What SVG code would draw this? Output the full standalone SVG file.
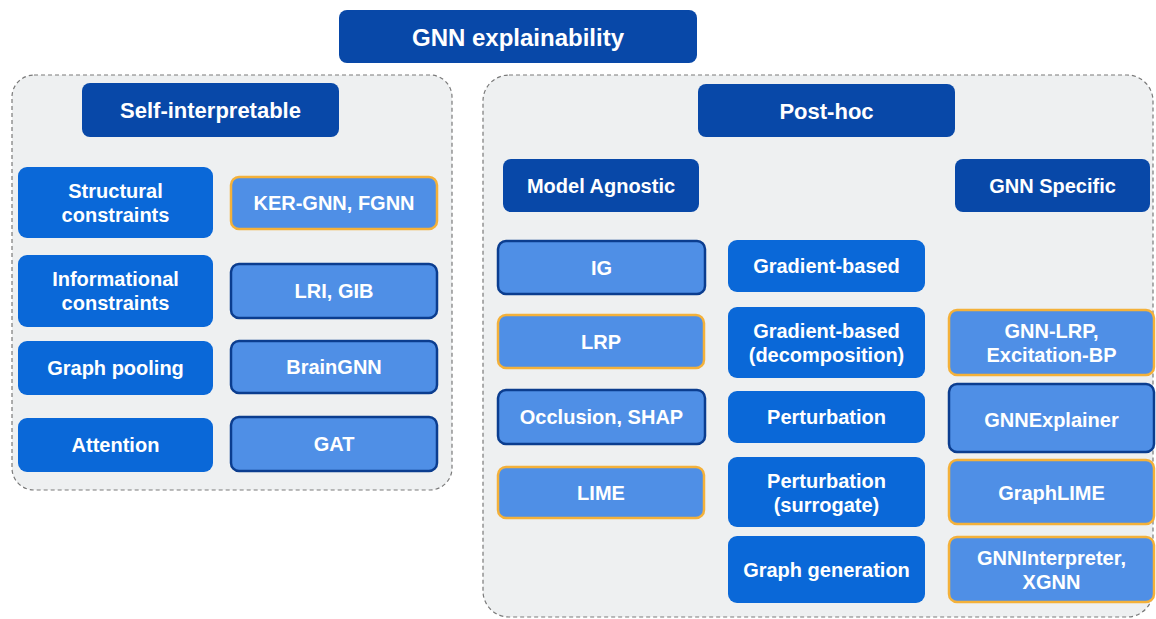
<svg xmlns="http://www.w3.org/2000/svg" width="1156" height="619" viewBox="0 0 1156 619">
<style>
text{font-family:"Liberation Sans",Arial,Helvetica,sans-serif;font-weight:bold;fill:#fff;text-anchor:middle;dominant-baseline:central}
.panel{fill:#eef0f1;stroke:#7a7a7a;stroke-width:1.2;stroke-dasharray:4 3}
.navy{fill:#0848a8}
.cat{fill:#0a68d8}
.m{fill:#4f8fe6;stroke-width:2.5}
.o{stroke:#f4b13a}
.d{stroke:#0b3d8f}
.h{font-size:22px}
.t{font-size:20px}
</style>
<rect width="1156" height="619" fill="#ffffff"/>
<rect class="panel" x="12" y="75" width="440" height="415" rx="22"/>
<rect class="panel" x="483" y="75" width="670" height="542" rx="26"/>
<g id="connectors"/>
<g id="n-title"><rect class="navy" x="339" y="10" width="358" height="53" rx="8"/><text x="518" y="37" style="font-size:24px">GNN explainability</text></g>
<g id="n-self"><rect class="navy" x="82" y="83" width="257" height="54" rx="8"/><text class="h" x="210.5" y="110">Self-interpretable</text></g>
<g id="n-struct"><rect class="cat" x="18" y="167" width="195" height="71" rx="9"/><text class="t" x="115.5" y="191">Structural</text><text class="t" x="115.5" y="215">constraints</text></g>
<g id="n-ker"><rect class="m o" x="231" y="177" width="206" height="52" rx="8"/><text class="t" x="334" y="203">KER-GNN, FGNN</text></g>
<g id="n-info"><rect class="cat" x="18" y="255" width="195" height="72" rx="9"/><text class="t" x="115.5" y="279">Informational</text><text class="t" x="115.5" y="303">constraints</text></g>
<g id="n-lri"><rect class="m d" x="231" y="264" width="206" height="54" rx="8"/><text class="t" x="334" y="291">LRI, GIB</text></g>
<g id="n-pool"><rect class="cat" x="18" y="341" width="195" height="54" rx="9"/><text class="t" x="115.5" y="368">Graph pooling</text></g>
<g id="n-brain"><rect class="m d" x="231" y="341" width="206" height="52" rx="8"/><text class="t" x="334" y="367">BrainGNN</text></g>
<g id="n-att"><rect class="cat" x="18" y="418" width="195" height="54" rx="9"/><text class="t" x="115.5" y="445">Attention</text></g>
<g id="n-gat"><rect class="m d" x="231" y="417" width="206" height="54" rx="8"/><text class="t" x="334" y="444">GAT</text></g>
<g id="n-posthoc"><rect class="navy" x="698" y="84" width="257" height="53" rx="8"/><text class="h" x="826.5" y="111">Post-hoc</text></g>
<g id="n-agnostic"><rect class="navy" x="503" y="159" width="196" height="53" rx="8"/><text class="t" x="601" y="186">Model Agnostic</text></g>
<g id="n-specific"><rect class="navy" x="955" y="159" width="195" height="53" rx="8"/><text class="t" x="1052.5" y="186">GNN Specific</text></g>
<g id="n-ig"><rect class="m d" x="498" y="241" width="207" height="53" rx="8"/><text class="t" x="601.5" y="268">IG</text></g>
<g id="n-lrp"><rect class="m o" x="498" y="315" width="206" height="53" rx="8"/><text class="t" x="601" y="342">LRP</text></g>
<g id="n-occ"><rect class="m d" x="498" y="390" width="207" height="54" rx="8"/><text class="t" x="601.5" y="417">Occlusion, SHAP</text></g>
<g id="n-lime"><rect class="m o" x="498" y="467" width="206" height="51" rx="8"/><text class="t" x="601" y="493">LIME</text></g>
<g id="n-grad"><rect class="cat" x="728" y="240" width="197" height="52" rx="9"/><text class="t" x="826.5" y="266">Gradient-based</text></g>
<g id="n-graddec"><rect class="cat" x="728" y="307" width="197" height="71" rx="9"/><text class="t" x="826.5" y="331">Gradient-based</text><text class="t" x="826.5" y="355">(decomposition)</text></g>
<g id="n-pert"><rect class="cat" x="728" y="391" width="197" height="52" rx="9"/><text class="t" x="826.5" y="417">Perturbation</text></g>
<g id="n-pertsur"><rect class="cat" x="728" y="457" width="197" height="70" rx="9"/><text class="t" x="826.5" y="481">Perturbation</text><text class="t" x="826.5" y="505">(surrogate)</text></g>
<g id="n-gen"><rect class="cat" x="728" y="536" width="197" height="67" rx="9"/><text class="t" x="826.5" y="570">Graph generation</text></g>
<g id="n-gnnlrp"><rect class="m o" x="949" y="310" width="205" height="65" rx="8"/><text class="t" x="1051.5" y="331">GNN-LRP,</text><text class="t" x="1051.5" y="355">Excitation-BP</text></g>
<g id="n-gnnexp"><rect class="m d" x="949" y="384" width="205" height="68" rx="8"/><text class="t" x="1051.5" y="420">GNNExplainer</text></g>
<g id="n-graphlime"><rect class="m o" x="949" y="460" width="205" height="64" rx="8"/><text class="t" x="1051.5" y="493">GraphLIME</text></g>
<g id="n-gnninterp"><rect class="m o" x="949" y="537" width="205" height="65" rx="8"/><text class="t" x="1051.5" y="558">GNNInterpreter,</text><text class="t" x="1051.5" y="582">XGNN</text></g>
</svg>
